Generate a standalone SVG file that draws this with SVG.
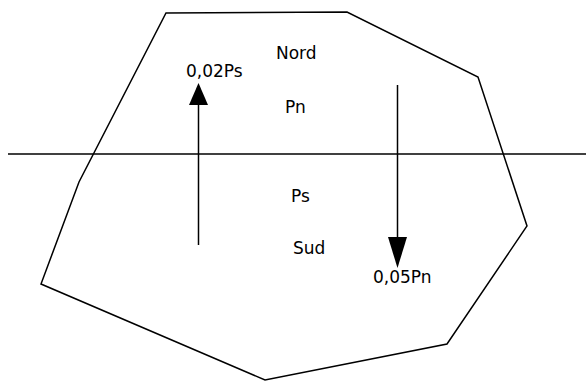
<svg xmlns="http://www.w3.org/2000/svg" width="586" height="383" viewBox="0 0 586 383">
<style>
.ln{fill:none;stroke:#000;stroke-width:1.5}
.t{font-family:"DejaVu Sans",sans-serif;font-size:17px;fill:#000}
.ah{fill:#000}
</style>
<rect width="586" height="383" fill="#fff"/>
<g id="region">
<polygon class="ln" points="166,13 347,12 478,77 527,226 447,344 265,380 41,284 79,182"/>
</g>
<g id="equator">
<line class="ln" x1="8" y1="154" x2="586" y2="154"/>
</g>
<g id="labels">
<text class="t" x="276" y="59">Nord</text>
<text class="t" x="186" y="77">0,02Ps</text>
<text class="t" x="285" y="113">Pn</text>
<text class="t" x="291" y="202">Ps</text>
<text class="t" x="293" y="254">Sud</text>
<text class="t" x="373" y="283">0,05Pn</text>
</g>
<g id="connectors">
<line class="ln" x1="198.5" y1="245" x2="198.5" y2="104"/>
<polygon class="ah" points="198.5,83 208,105 189,105"/>
<line class="ln" x1="397.5" y1="85" x2="397.5" y2="238"/>
<polygon class="ah" points="397.5,268 407,237 388,237"/>
</g>
</svg>
